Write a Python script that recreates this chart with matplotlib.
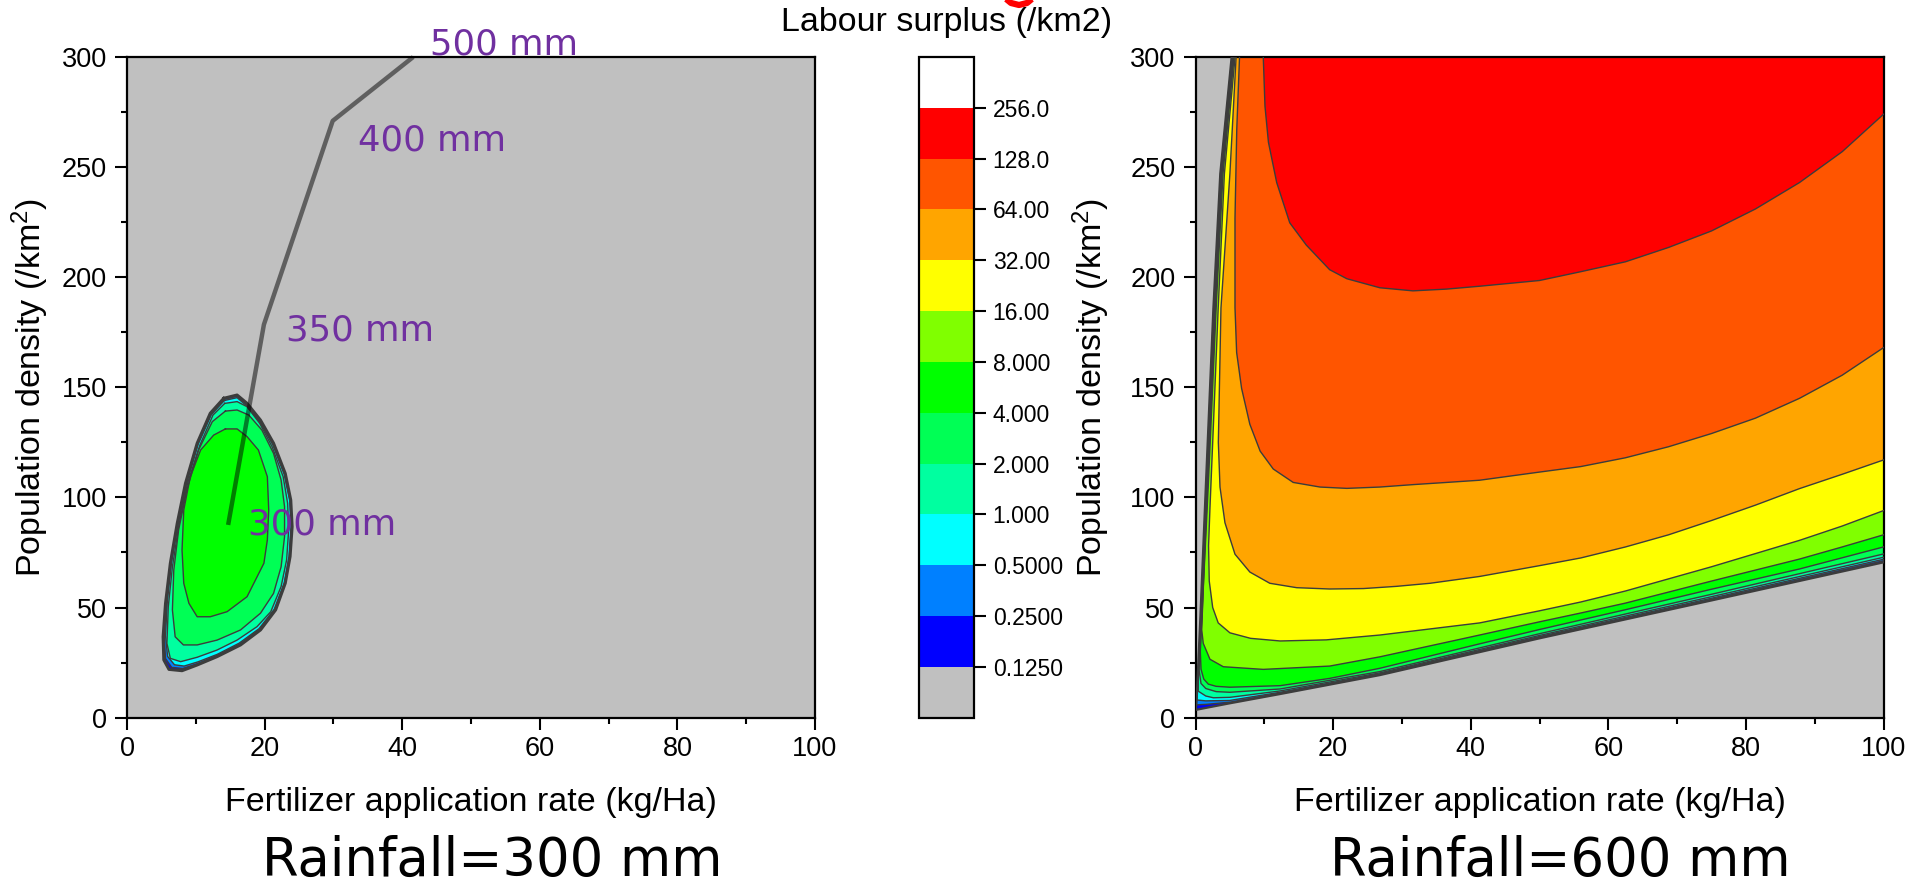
import matplotlib
matplotlib.use("Agg")
import matplotlib.pyplot as plt
import numpy as np
from matplotlib.colors import ListedColormap, BoundaryNorm
from matplotlib.cm import ScalarMappable
from matplotlib.ticker import MultipleLocator
from matplotlib.lines import Line2D

plt.rcParams['font.family'] = ['Liberation Sans', 'DejaVu Sans']
plt.rcParams['mathtext.fontset'] = 'custom'
plt.rcParams['mathtext.rm'] = 'Liberation Sans'
plt.rcParams['mathtext.it'] = 'Liberation Sans:italic'

# ---------------- data ----------------
levels = [0.125, 0.25, 0.5, 1, 2, 4, 8, 16, 32, 64, 128, 256]
level_labels = ["0.1250", "0.2500", "0.5000", "1.000", "2.000", "4.000",
                "8.000", "16.00", "32.00", "64.00", "128.0", "256.0"]
band_colors = ['#c0c0c0', '#0000ff', '#0080ff', '#00ffff', '#00ffa0', '#00ff55',
               '#00ff00', '#80ff00', '#ffff00', '#ffa500', '#ff5500', '#ff0000', '#ffffff']

# Rainfall = 300 mm : closed contours (fertilizer, population density)
r300_x_0125 = [14.06, 16.0, 17.45, 19.4, 21.3, 23.0, 23.8, 24.0, 23.7, 23.0, 21.6, 19.4, 16.5,
               13.1, 10.2, 8.0, 6.1, 5.35, 5.25, 5.6, 6.3, 7.3, 8.5, 10.2, 12.1]
r300_y_0125 = [145.0, 146.5, 142.7, 135.1, 124.6, 110.9, 98.8, 86.7, 73.1, 61.0, 48.9, 39.8, 33.0,
               27.7, 23.9, 21.3, 21.9, 26.2, 36.7, 51.9, 70.1, 88.2, 106.4, 124.6, 138.2]
r300_x_025 = [14.1, 16.0, 17.4, 19.35, 21.25, 22.95, 23.75, 23.95, 23.65, 22.95, 21.5, 19.3, 16.4,
              13.1, 10.25, 8.1, 6.5, 5.6, 5.4, 5.7, 6.35, 7.35, 8.55, 10.25, 12.15]
r300_y_025 = [144.6, 146.0, 142.3, 134.8, 124.4, 110.8, 98.8, 86.7, 73.1, 61.0, 49.0, 40.0, 33.3,
              28.1, 24.5, 22.3, 22.8, 26.8, 36.9, 52.0, 70.1, 88.2, 106.3, 124.4, 137.9]
r300_x_05 = [14.15, 16.0, 17.35, 19.3, 21.2, 22.85, 23.65, 23.85, 23.55, 22.85, 21.4, 19.2, 16.3,
             13.1, 10.3, 8.3, 6.9, 5.9, 5.6, 5.85, 6.45, 7.45, 8.65, 10.35, 12.25]
r300_y_05 = [144.0, 145.3, 141.7, 134.3, 123.9, 110.5, 98.6, 86.6, 73.1, 61.1, 49.2, 40.4, 33.8,
             28.7, 25.3, 23.4, 24.0, 27.8, 37.3, 52.2, 70.2, 88.2, 106.3, 124.2, 137.5]
r300_x_1 = [14.2, 16.0, 17.45, 19.3, 21.1, 22.7, 23.35, 23.5, 23.2, 22.4, 20.9, 18.9, 16.0,
            13.1, 10.2, 7.8, 6.3, 5.8, 6.0, 6.6, 7.5, 8.8, 10.6, 12.5]
r300_y_1 = [142.7, 143.5, 141.2, 133.6, 123.0, 109.4, 97.3, 85.2, 71.6, 59.5, 48.1, 41.3, 35.2,
            30.7, 27.4, 25.4, 26.9, 33.7, 50.4, 68.5, 86.7, 106.4, 123.8, 137.4]
r300_x_2 = [14.3, 16.0, 17.7, 19.6, 21.3, 22.4, 22.9, 22.9, 22.4, 21.3, 19.4, 16.5, 13.1,
            10.2, 8.2, 7.0, 6.6, 6.8, 7.5, 8.7, 10.4, 12.4]
r300_y_2 = [139.2, 139.7, 137.4, 130.6, 120.0, 107.9, 95.8, 82.2, 68.5, 56.4, 47.4, 39.8, 35.2,
            33.0, 33.0, 36.7, 48.9, 67.0, 85.2, 103.4, 121.5, 134.4]
r300_x_4 = [14.3, 16.0, 17.45, 19.1, 20.4, 20.6, 20.4, 19.9, 17.45, 14.55, 12.1, 10.2, 9.0,
            8.25, 8.0, 8.25, 9.2, 10.7, 12.6]
r300_y_4 = [131.1, 131.1, 127.6, 121.5, 109.4, 94.3, 80.7, 70.1, 54.9, 48.1, 45.8, 45.8, 51.9,
            61.0, 76.1, 94.3, 109.4, 121.5, 128.3]

# Optimal path across rainfall
path_fert = [14.7, 19.9, 29.9, 41.6]
path_pop = [87.5, 178.5, 271.0, 300.0]
path_labels = ["300 mm", "350 mm", "400 mm", "500 mm"]

# Rainfall = 600 mm : open contours from top edge to right edge
r600_x_0125 = [5.25, 3.6, 2.6, 1.5, 0.7, 0.25, 0.05, 2.0, 5.0, 12.3, 26.8, 50, 75, 100]
r600_y_0125 = [300, 247, 186, 105, 45, 14, 3.5, 4.7, 6.5, 10.7, 19.3, 36.0, 53.2, 70.5]
r600_x_025 = [5.3, 3.65, 2.65, 1.55, 0.75, 0.3, 0.12, 1.5, 5.0, 12.3, 26.8, 50, 75, 100]
r600_y_025 = [300, 247, 186, 105, 45, 14, 5.8, 6.0, 7.0, 11.1, 19.6, 36.4, 53.7, 71.2]
r600_x_05 = [5.35, 3.7, 2.7, 1.6, 0.8, 0.35, 0.22, 1.5, 5.0, 12.3, 26.8, 50, 75, 100]
r600_y_05 = [300, 247, 186, 105, 45, 15, 8.0, 7.6, 7.8, 11.5, 19.9, 36.8, 54.2, 71.9]
r600_x_1 = [5.4, 3.75, 2.75, 1.65, 0.85, 0.4, 0.4, 1.5, 2.6, 5.0, 12.3, 26.8, 50, 75, 100]
r600_y_1 = [300, 247, 186, 105, 45, 18, 12, 9.8, 9.0, 9.2, 12.1, 20.3, 37.3, 54.9, 72.8]
r600_x_2 = [5.45, 3.8, 2.8, 1.7, 0.9, 0.5, 0.8, 1.5, 3.0, 5.0, 12.3, 26.8, 50, 75, 100]
r600_y_2 = [300, 247, 186, 105, 45, 22, 15.5, 13.2, 11.8, 11.5, 13.0, 20.9, 38.1, 56.0, 74.3]
r600_x_4 = [5.5, 3.85, 2.9, 1.75, 1.0, 0.7, 0.8, 1.2, 1.86, 3.0, 5.0, 12.3, 19.5, 26.8, 41.3,
            50, 62.5, 75, 87.8, 100]
r600_y_4 = [300, 247, 186, 105, 50, 30, 22, 17.5, 15.2, 14.2, 13.8, 14.5, 17.8, 22.4, 33.5,
            40.0, 49.0, 58.3, 67.5, 77.5]
r600_x_8 = [5.6, 4.0, 3.0, 1.85, 1.15, 0.9, 1.13, 2.1, 4.04, 9.85, 19.5, 26.8, 41.3, 50, 56,
            62.5, 68.75, 75, 81.4, 87.8, 94, 100]
r600_y_8 = [300, 247, 186, 105, 60, 40, 33.7, 26.5, 23.1, 21.9, 23.4, 27.6, 37.5, 43.5, 47.5,
            52.0, 57.0, 62.0, 67.0, 72.0, 77.5, 83.0]
r600_x_16 = [5.75, 4.2, 3.3, 2.5, 2.1, 1.9, 2.0, 2.5, 3.3, 5.0, 8.0, 12.3, 19.0, 26.8, 41.3,
             50, 56, 62.5, 68.75, 75, 81.4, 87.8, 94, 100]
r600_y_16 = [300, 247, 186, 125, 95, 78, 62, 50, 43, 38.5, 36, 34.8, 35.3, 37.5, 43.0,
             48.5, 52.5, 57.5, 63.0, 68.5, 74.5, 80.5, 87.0, 94.0]
r600_x_32 = [5.9, 5.0, 3.7, 3.32, 3.56, 4.28, 5.74, 7.9, 10.8, 14.7, 19.5, 24.4, 29.2, 34.1,
             41.3, 50, 56, 62.5, 68.75, 75, 81.4, 87.8, 94, 100]
r600_y_32 = [300, 247, 186, 125, 104.7, 88.5, 74.2, 66.1, 61, 59, 58.4, 58.6, 59.6, 61,
             64.1, 69, 72.5, 77.5, 83.0, 89.5, 96.5, 104.0, 110.5, 117]
r600_x_64 = [6.4, 6.0, 5.74, 5.74, 5.98, 6.7, 7.9, 9.4, 11.3, 14.2, 18.1, 22.0, 26.8, 31.6,
             36.5, 41.3, 50, 56, 62.5, 68.75, 75, 81.4, 87.8, 94, 100]
r600_y_64 = [300, 267.4, 226.8, 186.1, 165.8, 149.5, 133.2, 121.0, 112.9, 106.8, 104.7, 104.1,
             104.7, 105.8, 106.8, 107.8, 111.5, 114.0, 118.0, 123.0, 129.0, 136.0, 145.0, 155.5, 168]
r600_x_128 = [9.85, 10.1, 10.6, 11.8, 13.7, 16.1, 19.5, 22.0, 26.8, 31.6, 36.5, 41.3, 50, 56,
              62.5, 68.75, 75, 81.4, 87.8, 94, 100]
r600_y_128 = [300, 277.6, 261.3, 243.0, 224.7, 214.6, 203.4, 199.3, 195.2, 193.8, 194.6, 195.9,
              198.5, 202.5, 207.0, 213.5, 221.0, 231.0, 243.0, 257.0, 274]

# ---------------- figure ----------------
W, H = 1907, 891
fig = plt.figure(figsize=(W / 100, H / 100), dpi=100)

XMAX, YMAX = 100, 300
ax_b = (H - 717.6) / H
ax_h = 660.6 / H
axL = fig.add_axes([127 / W, ax_b, 688 / W, ax_h])
cax = fig.add_axes([919 / W, ax_b, 55 / W, ax_h])
axR = fig.add_axes([1195.5 / W, ax_b, 688 / W, ax_h])

line_col = '#3c3c3c'
grey = band_colors[0]

def style_axes(ax):
    ax.set_xlim(0, XMAX)
    ax.set_ylim(0, YMAX)
    ax.set_facecolor(grey)
    ax.xaxis.set_major_locator(MultipleLocator(20))
    ax.xaxis.set_minor_locator(MultipleLocator(10))
    ax.yaxis.set_major_locator(MultipleLocator(50))
    ax.yaxis.set_minor_locator(MultipleLocator(25))
    ax.tick_params(which='both', direction='out', top=False, right=False, width=1.5)
    ax.tick_params(which='major', length=8.5, labelsize=19.5)
    ax.tick_params(which='minor', length=4.5)
    ax.tick_params(axis='y', which='major', pad=6)
    ax.tick_params(axis='x', which='major', pad=5)
    for s in ax.spines.values():
        s.set_linewidth(1.6)
    ax.set_xlabel('Fertilizer application rate (kg/Ha)', fontsize=24.5)
    ax.set_ylabel('Population density (/km$^2$)', fontsize=24.5)
    ax.xaxis.set_label_coords(0.5, -0.105)

# ---- left panel (300 mm) ----
style_axes(axL)
axL.yaxis.set_label_coords(-0.110, 0.5)
left_curves = [(r300_x_0125, r300_y_0125), (r300_x_025, r300_y_025), (r300_x_05, r300_y_05),
               (r300_x_1, r300_y_1), (r300_x_2, r300_y_2), (r300_x_4, r300_y_4)]
for i, (cx, cy) in enumerate(left_curves):
    axL.fill(cx, cy, color=band_colors[i + 1], lw=0, zorder=2)
for i, (cx, cy) in enumerate(left_curves):
    axL.plot(list(cx) + [cx[0]], list(cy) + [cy[0]], color=line_col,
             lw=2.2 if i == 0 else 1.0, zorder=3, solid_joinstyle='round')

axL.plot(path_fert, path_pop, color='black', alpha=0.5, lw=3.2, zorder=4,
         solid_capstyle='butt', clip_on=False)
label_offsets = [(14, 0), (16, -4), (18, -14), (12, 9)]
for fx, py, lab, off in zip(path_fert, path_pop, path_labels, label_offsets):
    axL.annotate(lab, (fx, py), xytext=off, textcoords='offset points',
                 ha='left', va='center', color='#7030a0', fontsize=25.5,
                 family=['DejaVu Sans'], annotation_clip=False, zorder=5)

# ---- right panel (600 mm) ----
style_axes(axR)
axR.yaxis.set_label_coords(-0.121, 0.5)
right_curves = [(r600_x_0125, r600_y_0125), (r600_x_025, r600_y_025), (r600_x_05, r600_y_05),
                (r600_x_1, r600_y_1), (r600_x_2, r600_y_2), (r600_x_4, r600_y_4),
                (r600_x_8, r600_y_8), (r600_x_16, r600_y_16), (r600_x_32, r600_y_32),
                (r600_x_64, r600_y_64), (r600_x_128, r600_y_128)]
for i, (cx, cy) in enumerate(right_curves):
    axR.fill(list(cx) + [XMAX], list(cy) + [YMAX], color=band_colors[i + 1], lw=0, zorder=2)
for i, (cx, cy) in enumerate(right_curves):
    axR.plot(cx, cy, color=line_col, lw=1.6 if i == 0 else 1.0, zorder=3,
             solid_joinstyle='round')

# ---- colorbar ----
bounds = [levels[0] / 2] + levels + [levels[-1] * 2]
cmap = ListedColormap(band_colors)
norm = BoundaryNorm(bounds, cmap.N)
cb = fig.colorbar(ScalarMappable(norm=norm, cmap=cmap), cax=cax, spacing='uniform',
                  boundaries=bounds, ticks=levels)
cb.ax.set_yticklabels(level_labels)
cb.ax.tick_params(which='major', direction='out', length=8.5, width=1.5, labelsize=16.5, pad=5)
cb.ax.minorticks_off()
cb.outline.set_linewidth(1.6)

fig.text(947 / W, 1 - 22 / H, 'Labour surplus (/km2)', ha='center', va='center', fontsize=24.5)

# stray red pen stroke at the top edge of the original
fig.add_artist(Line2D([1005 / W, 1011 / W, 1019 / W, 1027 / W, 1033 / W],
                      [1 + 2 / H, 1 - 3 / H, 1 - 5 / H, 1 - 3 / H, 1 + 2 / H],
                      transform=fig.transFigure, color='#ff0000', lw=4.5,
                      solid_capstyle='butt'))

# panel captions
fig.text(492 / W, 1 - 876 / H, 'Rainfall=300 mm', ha='center', va='baseline',
         fontsize=38, family=['DejaVu Sans'])
fig.text(1560 / W, 1 - 876 / H, 'Rainfall=600 mm', ha='center', va='baseline',
         fontsize=38, family=['DejaVu Sans'])

fig.savefig('out.png', dpi=100, facecolor='white')
